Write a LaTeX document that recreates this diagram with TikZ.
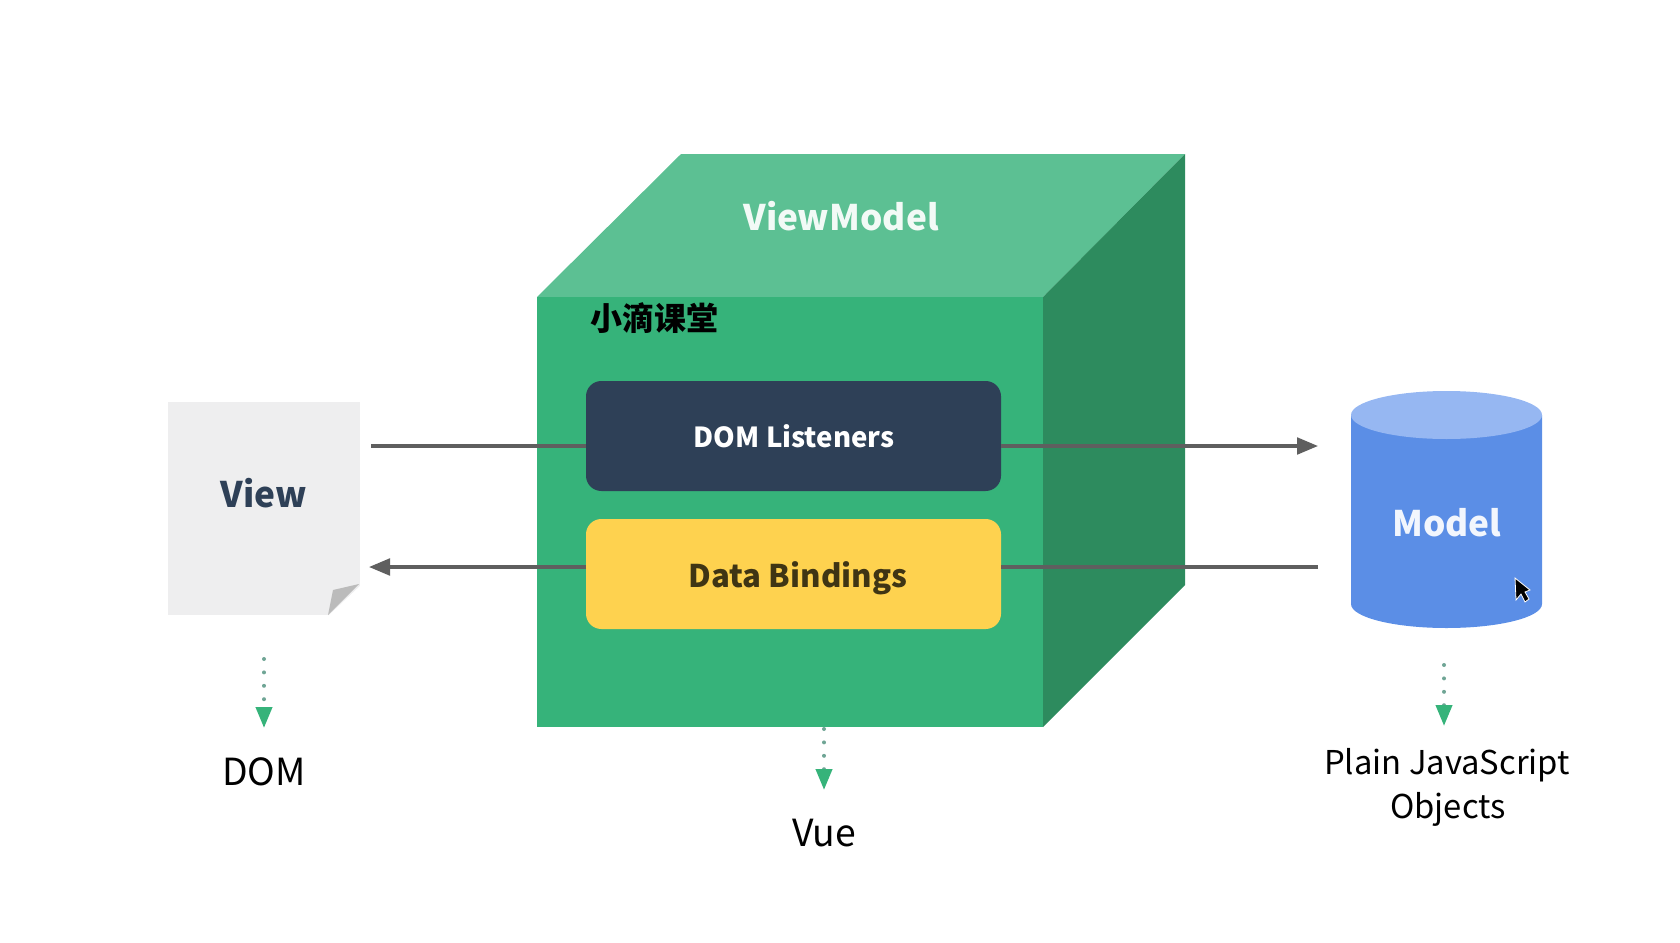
\documentclass[tikz,border=0pt]{standalone}
\usepackage{fontspec}
\setmainfont{Noto Sans CJK SC}
\usetikzlibrary{arrows.meta,calc}
\definecolor{frontgreen}{HTML}{36B37A}
\definecolor{topgreen}{HTML}{5CC093}
\definecolor{sidegreen}{HTML}{2D8B5E}
\definecolor{navy}{HTML}{2E4057}
\definecolor{sun}{HTML}{FED24F}
\definecolor{paper}{HTML}{EEEEEF}
\definecolor{foldgrey}{HTML}{BBBBBB}
\definecolor{wire}{HTML}{5F5F5F}
\definecolor{dbl}{HTML}{5B8EE6}
\definecolor{dbltop}{HTML}{96B7F2}
\definecolor{dotgrey}{HTML}{6FA595}
\tikzset{
  txt/.style={inner sep=0pt,outer sep=0pt,anchor=base,align=center},
  boldlab/.style={txt,font=\fontsize{26.4}{32}\selectfont\bfseries},
  plainlab/.style={txt,font=\fontsize{28}{33}\selectfont},
  smalllab/.style={txt,font=\fontsize{24.6}{30}\selectfont},
  panel/.style={rounded corners=11.5pt,inner sep=0pt,outer sep=0pt,minimum width=311.25pt,minimum height=82.5pt},
  wireline/.style={draw=wire,line width=2.4pt},
  wirearrow/.style={wireline,-{Triangle[length=15.75pt,width=12.5pt]}},
  dotarrow/.style={draw=dotgrey,line width=3pt,line cap=round,dash pattern=on 0pt off 10.05pt,
    -{Triangle[length=15.75pt,width=12pt,color=frontgreen,fill=frontgreen]}},
}
\begin{document}
\begin{tikzpicture}[x=0.75pt,y=-0.75pt]
\useasboundingbox (0,0) rectangle (1680,942);
% cube
\fill[topgreen] (537,297) -- (681,154) -- (1185,154) -- (1043,297) -- cycle;
\fill[sidegreen] (1043,297) -- (1185,154) -- (1185,585) -- (1043,727) -- cycle;
\node[fill=frontgreen,inner sep=0pt,outer sep=0pt,minimum width=379.5pt,minimum height=322.5pt] (front) at (790,512) {};
\node[boldlab,text=white!92!topgreen] (vm) at (841,230) {ViewModel};
\node[txt,font=\fontsize{24}{28}\selectfont\bfseries,text=black] (wm) at (654,330) {小滴课堂};
% view page
\node[fill=paper,inner sep=0pt,outer sep=0pt,minimum width=144pt,minimum height=159.75pt] (view) at (264,508.5) {};
\fill[white] (361,585) -- (361,616) -- (328,616) -- cycle;
\fill[foldgrey] (328,615) -- (333,590) -- (359,584) -- cycle;
\node[boldlab,text=navy] (viewlab) at (264,507) {View};
% model cylinder
\fill[dbl] (1351,415) -- (1351,604) arc[start angle=180,end angle=0,x radius=95.5,y radius=24] -- (1542,415) -- cycle;
\fill[dbltop] (1446.5,415) ellipse[x radius=95.5,y radius=24];
\node[boldlab,text=white!92!dbl] (modellab) at (1447,536) {Model};
% coordinates of the free connector ends
\coordinate (vout) at (371,446);
\coordinate (vin) at (369,567);
\coordinate (min) at (1318,446);
\coordinate (mout) at (1318,567);
% panels
\node[panel,fill=navy] (dom) at (793.5,436) {};
\node[panel,fill=sun] (bind) at (793.5,574) {};
\node[txt,font=\fontsize{20.7}{25}\selectfont\bfseries,text=white] (domlab) at (794,447) {DOM Listeners};
\node[txt,font=\fontsize{23.4}{28}\selectfont\bfseries,text=black!75!sun] (bindlab) at (798,587) {Data Bindings};
% solid connectors
\draw[wireline] (vout) -- (vout -| dom.west);
\draw[wirearrow] (vout -| dom.east) -- (min);
\draw[wireline] (mout) -- (mout -| bind.east);
\draw[wirearrow] (vin -| bind.west) -- (vin);
% dotted connectors
\coordinate (domtip) at (264,728);
\coordinate (vuestart) at (824,729);
\coordinate (vuetip) at (824,790);
\coordinate (modelstart) at (1444,665);
\coordinate (modeltip) at (1444,726);
\draw[dotarrow] ($(view.south)+(0,44)$) -- (domtip);
\draw[dotarrow] (vuestart) -- (vuetip);
\draw[dotarrow] (modelstart) -- (modeltip);
% labels
\node[plainlab] (domtext) at (264,785) {DOM};
\node[plainlab] (vuetext) at (824,846) {Vue};
\node[smalllab] (pjs) at (1447,774) {Plain JavaScript};
\node[smalllab] (obj) at (1448,818) {Objects};
% cursor
\fill[black,draw=white,line width=0.6pt] (1515,578) -- (1516,600) -- (1521,594) -- (1525,602) -- (1529,599) -- (1525,592) -- (1530,590) -- cycle;
\end{tikzpicture}
\end{document}
